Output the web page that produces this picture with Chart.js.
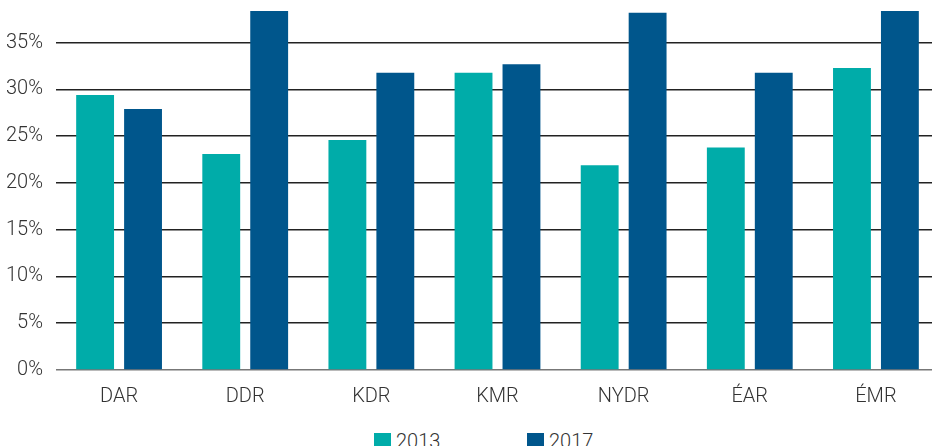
<!DOCTYPE html>
<html>
<head>
<meta charset="utf-8">
<script src="https://cdn.jsdelivr.net/npm/chart.js@4/dist/chart.umd.min.js"></script>
<style>
  html, body { margin: 0; padding: 0; background: #fff; overflow: hidden; }
  #wrap { position: relative; width: 932px; height: 446px; overflow: hidden; }
  #chart { position: absolute; left: 0; top: 0; }
  .leg { position: absolute; top: 429px; display: flex; align-items: center;
         font: 300 20px Roboto, sans-serif; color: #333; }
  .leg i { display: inline-block; width: 17px; height: 17px; margin-right: 5px; }
</style>
</head>
<body>
<div id="wrap">
  <canvas id="chart" width="940" height="426"></canvas>
  <div class="leg" style="left:374px"><i style="background:#00aca9"></i>2013</div>
  <div class="leg" style="left:527px"><i style="background:#00568c"></i>2017</div>
</div>
<script>
const categories = ['DAR', 'DDR', 'KDR', 'KMR', 'NYDR', 'ÉAR', 'ÉMR'];
const values2013 = [29.4, 23.1, 24.6, 31.8, 21.9, 23.8, 32.3];
const values2017 = [27.9, 38.4, 31.8, 32.7, 38.2, 31.8, 38.4];
const yTicks = [0, 5, 10, 15, 20, 25, 30, 35];

const font = { family: 'Roboto', size: 20, weight: 300 };

new Chart(document.getElementById('chart'), {
  type: 'bar',
  data: {
    labels: categories,
    datasets: [
      { label: '2013', data: values2013, backgroundColor: '#00aca9' },
      { label: '2017', data: values2017, backgroundColor: '#00568c' }
    ]
  },
  options: {
    responsive: false,
    animation: false,
    categoryPercentage: 0.76,
    barPercentage: 0.79,
    layout: { padding: { left: 6, right: 1, top: 10, bottom: 2 } },
    plugins: { legend: { display: false }, tooltip: { enabled: false } },
    scales: {
      x: {
        grid: { display: false, drawTicks: false },
        border: { display: false },
        ticks: { color: '#333', font, padding: 15 },
        afterFit: s => { s.paddingLeft = 0; s.paddingRight = 0; }
      },
      y: {
        min: 0,
        max: 38.5,
        z: 1,
        afterBuildTicks: axis => { axis.ticks = yTicks.map(v => ({ value: v })); },
        afterFit: s => { s.width = 50; s.paddingTop = 0; s.paddingBottom = 0; },
        grid: {
          drawTicks: false,
          color: ctx => ctx.tick && ctx.tick.value === 0 ? '#777' : '#222',
          lineWidth: 1.5
        },
        border: { display: false },
        ticks: { color: '#333', font, padding: 13, callback: v => v + '%' }
      }
    }
  }
});
</script>
</body>
</html>
